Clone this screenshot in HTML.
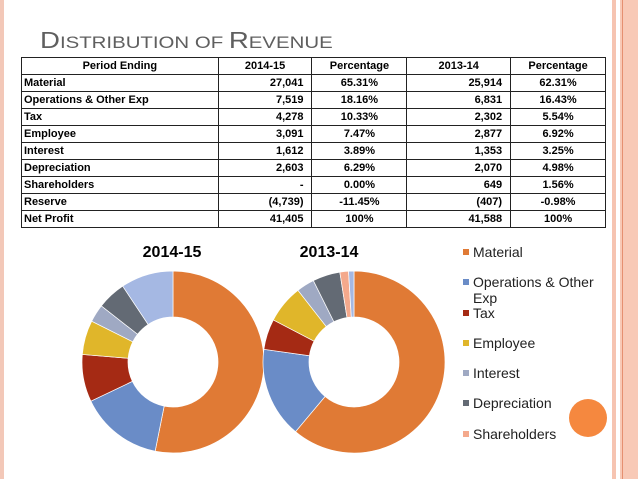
<!DOCTYPE html>
<html><head><meta charset="utf-8"><style>
body{margin:0;width:638px;height:479px;background:#fff;position:relative;overflow:hidden;font-family:"Liberation Sans",sans-serif;}
.abs{position:absolute;}
#title{left:40px;top:27px;color:#5f5f5f;font-size:23px;white-space:nowrap;transform:scaleX(1.2);transform-origin:left top;}
#title small{font-size:17px;}
table{position:absolute;left:21px;top:57px;width:585px;border-collapse:collapse;font-size:11px;font-weight:bold;color:#000;}
td{border:1px solid #222;height:16px;padding:0 2px;line-height:16px;white-space:nowrap;}
td.n{text-align:right;padding-right:8px;}
td.c{text-align:center;}
.leg{position:absolute;left:473px;font-size:14px;color:#222;line-height:16px;}
.sq{position:absolute;left:463px;width:6px;height:6px;}
</style></head><body>
<div class="abs" style="left:0;top:0;width:4px;height:479px;background:#f3c8b8"></div>
<div class="abs" style="left:612px;top:0;width:4px;height:479px;background:#f6c4b1"></div>
<div class="abs" style="left:620px;top:0;width:18px;height:479px;background:#f8c9b6"></div>
<div class="abs" style="left:622px;top:0;width:1px;height:479px;background:#e58f70"></div>
<div class="abs" style="left:569px;top:399px;width:38px;height:38px;border-radius:50%;background:#f5883f"></div>

<div id="title" class="abs">D<small>ISTRIBUTION OF </small>R<small>EVENUE</small></div>

<table>
<colgroup><col style="width:197px"><col style="width:94px"><col style="width:95px"><col style="width:104px"><col style="width:95px"></colgroup>
<tr><td class="c">Period Ending</td><td class="c">2014-15</td><td class="c">Percentage</td><td class="c">2013-14</td><td class="c">Percentage</td></tr>
<tr><td>Material</td><td class="n">27,041</td><td class="c">65.31%</td><td class="n">25,914</td><td class="c">62.31%</td></tr>
<tr><td>Operations &amp; Other Exp</td><td class="n">7,519</td><td class="c">18.16%</td><td class="n">6,831</td><td class="c">16.43%</td></tr>
<tr><td>Tax</td><td class="n">4,278</td><td class="c">10.33%</td><td class="n">2,302</td><td class="c">5.54%</td></tr>
<tr><td>Employee</td><td class="n">3,091</td><td class="c">7.47%</td><td class="n">2,877</td><td class="c">6.92%</td></tr>
<tr><td>Interest</td><td class="n">1,612</td><td class="c">3.89%</td><td class="n">1,353</td><td class="c">3.25%</td></tr>
<tr><td>Depreciation</td><td class="n">2,603</td><td class="c">6.29%</td><td class="n">2,070</td><td class="c">4.98%</td></tr>
<tr><td>Shareholders</td><td class="n">-</td><td class="c">0.00%</td><td class="n">649</td><td class="c">1.56%</td></tr>
<tr><td>Reserve</td><td class="n">(4,739)</td><td class="c">-11.45%</td><td class="n">(407)</td><td class="c">-0.98%</td></tr>
<tr><td>Net Profit</td><td class="n">41,405</td><td class="c">100%</td><td class="n">41,588</td><td class="c">100%</td></tr>
</table>

<svg class="abs" style="left:0;top:0" width="638" height="479">
<text x="172" y="257" text-anchor="middle" font-size="16" font-weight="bold" font-family="Liberation Sans, sans-serif">2014-15</text>
<text x="329" y="257" text-anchor="middle" font-size="16" font-weight="bold" font-family="Liberation Sans, sans-serif">2013-14</text>
<g id="d1"></g><g id="d2"></g>
</svg>

<div class="sq" style="top:249px;background:#e07a35"></div><div class="leg" style="top:244px">Material</div>
<div class="sq" style="top:279px;background:#6a8cc7"></div><div class="leg" style="top:274px">Operations &amp; Other<br>Exp</div>
<div class="sq" style="top:310px;background:#a52a14"></div><div class="leg" style="top:305px">Tax</div>
<div class="sq" style="top:340px;background:#e0b62a"></div><div class="leg" style="top:335px">Employee</div>
<div class="sq" style="top:370px;background:#9fa9c3"></div><div class="leg" style="top:365px">Interest</div>
<div class="sq" style="top:400px;background:#636a74"></div><div class="leg" style="top:395px">Depreciation</div>
<div class="sq" style="top:431px;background:#f4a98c"></div><div class="leg" style="top:426px">Shareholders</div>

<script>
const categories = ["Material","Operations","Tax","Employee","Interest","Depreciation","Shareholders","Reserve"];
const values2015 = [27041,7519,4278,3091,1612,2603,0,4739];
const values2014 = [25914,6831,2302,2877,1353,2070,649,407];
const colors = ["#e07a35","#6a8cc7","#a52a14","#e0b62a","#9fa9c3","#636a74","#f4a98c","#a5b8e3"];
function donut(gid, vals, cx, cy, ro, ri, name){
  const g=document.getElementById(gid);
  const total=vals.reduce((a,b)=>a+b,0);
  let a0=0;
  vals.forEach((v,i)=>{
    if(v<=0)return;
    const a1=a0+v/total*2*Math.PI;
    const p=(r,a)=>[cx+r*Math.sin(a),cy-r*Math.cos(a)];
    const [x0,y0]=p(ro,a0),[x1,y1]=p(ro,a1),[x2,y2]=p(ri,a1),[x3,y3]=p(ri,a0);
    const lg=(a1-a0)>Math.PI?1:0;
    const path=document.createElementNS("http://www.w3.org/2000/svg","path");
    path.setAttribute("d",`M${x0},${y0}A${ro},${ro} 0 ${lg} 1 ${x1},${y1}L${x2},${y2}A${ri},${ri} 0 ${lg} 0 ${x3},${y3}Z`);
    path.setAttribute("fill",colors[i]);
    path.setAttribute("stroke","#fff");
    path.setAttribute("stroke-width","0.7");
    
    
    g.appendChild(path);
    a0=a1;
  });
}
donut("d1",values2015,173,362,91,45,"donut-2014-15");
donut("d2",values2014,354,362,91,45,"donut-2013-14");
</script>
</body></html>
